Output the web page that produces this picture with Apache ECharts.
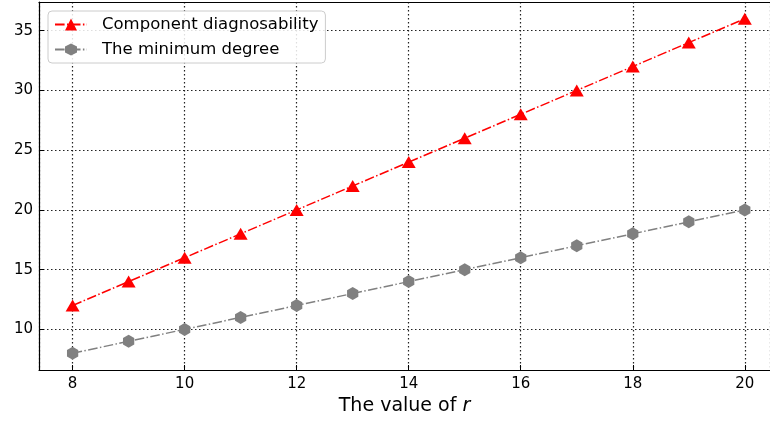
<!DOCTYPE html>
<html>
<head>
<meta charset="utf-8">
<script src="https://cdn.jsdelivr.net/npm/echarts@6/dist/echarts.min.js"></script>
<style>
    html, body { margin: 0; padding: 0; background: #fff; }
    #chart { width: 770px; height: 422px; }
</style>
</head>
<body>
<div id="chart"></div>
<script>
    var rValues = [8, 9, 10, 11, 12, 13, 14, 15, 16, 17, 18, 19, 20]
    var diagnosability = [12, 14, 16, 18, 20, 22, 24, 26, 28, 30, 32, 34, 36]
    var minDegree = [8, 9, 10, 11, 12, 13, 14, 15, 16, 17, 18, 19, 20]
    var xTicks = [8, 10, 12, 14, 16, 18, 20]
    var yTicks = [10, 15, 20, 25, 30, 35]

    var font = 'DejaVu Sans'
    var hexagon = 'path://M0,-1L0.866,-0.5L0.866,0.5L0,1L-0.866,0.5L-0.866,-0.5Z'
    var dashDot = [9.6, 2.4, 1.5, 2.4]

    function pairs(ys) {
        return rValues.map(function (x, i) { return [x, ys[i]] })
    }

    var myChart = echarts.init(document.getElementById('chart'))

    var gridLine = {
        show: true,
        lineStyle: { color: '#222', type: [1.5, 2.5], width: 1.2 }
    }

    var option = {
        animation: false,
        grid: { left: 39, top: 2, right: 0, bottom: 52, outerBoundsMode: 'none', containLabel: false },
        legend: {
            orient: 'vertical',
            left: 48, top: 11,
            padding: [5, 7, 5, 6],
            itemGap: 8,
            itemWidth: 32,
            itemHeight: 15,
            borderColor: '#ccc',
            borderWidth: 1,
            borderRadius: 4,
            backgroundColor: 'rgba(255,255,255,0.85)',
            textStyle: { fontFamily: font, fontSize: 16.5, color: '#000', padding: [0, 0, 0, 10] },
            data: ['Component diagnosability', 'The minimum degree']
        },
        xAxis: [{
            type: 'value',
            min: 7.4, max: 20.45,
            minInterval: 2, maxInterval: 2,
            name: '{a|The value of }{b|r}',
            nameLocation: 'middle',
            nameGap: 25,
            nameTextStyle: {
                rich: {
                    a: { fontFamily: font, fontSize: 19, color: '#000' },
                    b: { fontFamily: font, fontSize: 19, color: '#000', fontStyle: 'italic' }
                }
            },
            axisLine: { lineStyle: { color: '#000', width: 1.2 } },
            axisTick: { inside: true, length: 5, lineStyle: { color: '#000' } },
            axisLabel: { customValues: xTicks, fontFamily: font, fontSize: 15, color: '#000', margin: 7 },
            splitLine: gridLine
        }, {
            type: 'value',
            position: 'top',
            min: 7.4, max: 20.45,
            axisLine: { show: true, onZero: false, lineStyle: { color: '#000', width: 1.2 } },
            axisTick: { show: false },
            axisLabel: { show: false },
            splitLine: { show: false }
        }],
        yAxis: {
            type: 'value',
            min: 6.6, max: 37.4,
            minInterval: 5, maxInterval: 5,
            axisLine: { show: true, lineStyle: { color: '#000', width: 1.2 } },
            axisTick: { show: true, inside: true, length: 5, lineStyle: { color: '#000' } },
            axisLabel: { customValues: yTicks, fontFamily: font, fontSize: 15, color: '#000', margin: 6 },
            splitLine: gridLine
        },
        series: [
            {
                name: 'Component diagnosability',
                type: 'line',
                data: pairs(diagnosability),
                symbol: 'triangle',
                symbolSize: [14, 12],
                itemStyle: { color: '#ff0000' },
                lineStyle: { color: '#ff0000', width: 1.5, type: dashDot }
            },
            {
                name: 'The minimum degree',
                type: 'line',
                data: pairs(minDegree),
                symbol: hexagon,
                symbolSize: 13,
                symbolKeepAspect: true,
                itemStyle: { color: '#808080' },
                lineStyle: { color: '#808080', width: 1.5, type: dashDot }
            }
        ]
    }
    myChart.setOption(option)
</script>
</body>
</html>
